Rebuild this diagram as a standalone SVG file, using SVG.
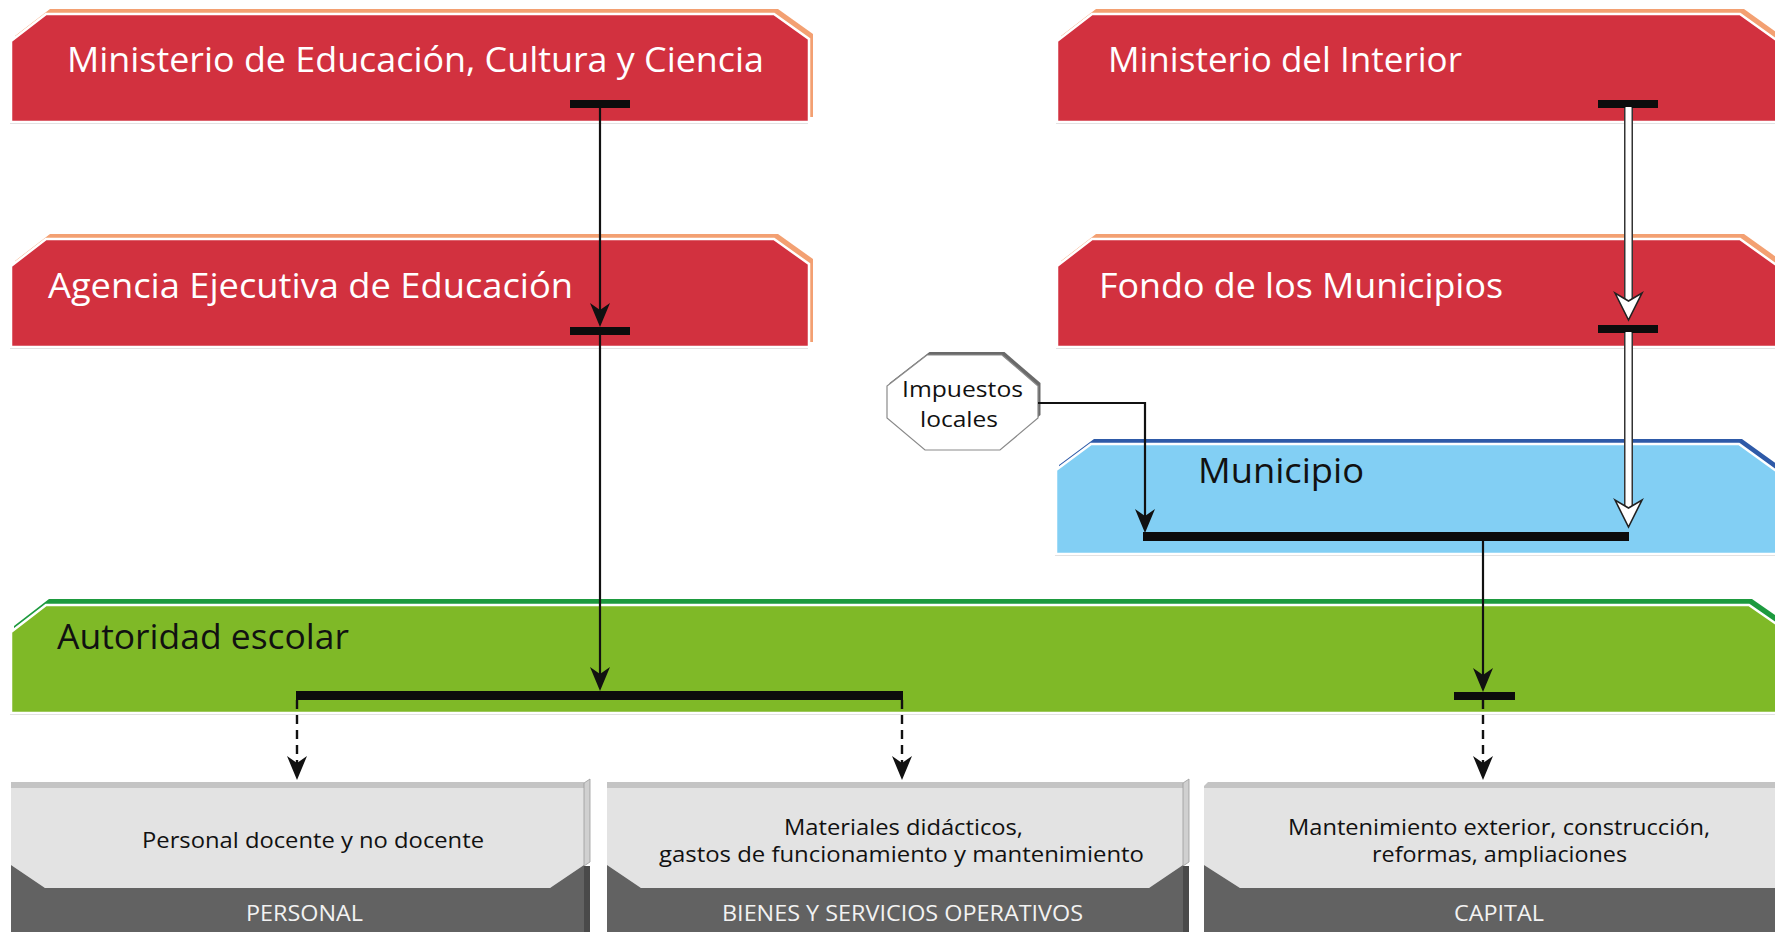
<svg xmlns="http://www.w3.org/2000/svg" xmlns:xlink="http://www.w3.org/1999/xlink" width="1775" height="932" viewBox="0 0 1775 932">
<defs>
<style>
.shadow{fill:#d9d9d9}
.orange{fill:#f3a072}
.red{fill:#d2313f;stroke:#fff;stroke-width:2.5}
.greenLine{fill:#1d9a3e}
.green{fill:#7fb927;stroke:#fff;stroke-width:2.5}
.blueLine{fill:#2e5aa8}
.blue{fill:#82cff4;stroke:#fff;stroke-width:2.5}
.lg{fill:#e3e3e3}
.dg{fill:#626262}
.topb{fill:#c4c4c4}
.sideU{fill:#d0d0d0;stroke:#9a9a9a;stroke-width:0.8}
.sideL{fill:#4a4a4a}
.bar{fill:#0c0c0c}
.ln{fill:none;stroke:#111;stroke-width:2.2}
.dash{fill:none;stroke:#111;stroke-width:2.4;stroke-dasharray:9 6}
.hollowOut{fill:none;stroke:#333;stroke-width:9}
.hollowIn{fill:none;stroke:#fff;stroke-width:6}
.ah{fill:#111}
.hh{fill:#fff;stroke:#222;stroke-width:1.6;stroke-linejoin:miter}
text{font-family:"Open Sans","Liberation Sans",sans-serif}
.tw{fill:#fff;font-size:34px}
.tb{fill:#111;font-size:34px}
.ts{fill:#111;font-size:22px}
.tc{fill:#f2f2f2;font-size:22px}
.oct{fill:#fff;stroke:#8a8a8a;stroke-width:1.2}
.octSh{fill:#6a6a6a}
</style>
<path id="ah" d="M-10,-24 L0,0 L10,-24 L0,-17 Z"/>
<path id="hh" d="M-13.5,-27 L0,0 L13.5,-27 L0,-19 Z"/>
<polygon id="boxL" points="11,41 46,14 774,14 809,39 809,122 11,122"/>
<polygon id="boxR" points="1057,41 1092,14 1740,14 1775,39 1800,57 1800,122 1057,122"/>
</defs>

<g id="mecyc">
<use href="#boxL" class="shadow" transform="translate(-1,2)"/>
<use href="#boxL" class="orange" transform="translate(4,-5)"/>
<use href="#boxL" class="red"/>
<text class="tw" x="67" y="72" textLength="697" lengthAdjust="spacingAndGlyphs">Ministerio de Educación, Cultura y Ciencia</text>
</g>

<g id="agencia">
<use href="#boxL" class="shadow" transform="translate(-1,227)"/>
<use href="#boxL" class="orange" transform="translate(4,220)"/>
<use href="#boxL" class="red" transform="translate(0,225)"/>
<text class="tw" x="48" y="298" textLength="525" lengthAdjust="spacingAndGlyphs">Agencia Ejecutiva de Educación</text>
</g>

<g id="interior">
<use href="#boxR" class="shadow" transform="translate(-1,2)"/>
<use href="#boxR" class="orange" transform="translate(4,-5)"/>
<use href="#boxR" class="red"/>
<text class="tw" x="1108" y="72" textLength="354" lengthAdjust="spacingAndGlyphs">Ministerio del Interior</text>
</g>

<g id="fondo">
<use href="#boxR" class="shadow" transform="translate(-1,227)"/>
<use href="#boxR" class="orange" transform="translate(4,220)"/>
<use href="#boxR" class="red" transform="translate(0,225)"/>
<text class="tw" x="1099" y="298" textLength="404" lengthAdjust="spacingAndGlyphs">Fondo de los Municipios</text>
</g>

<g id="impuestos">
<polygon class="octSh" points="927,355 1002,355 1038,386 1038,418 1000,450 925,450 887,418 887,386" transform="translate(2.5,-3)"/>
<polygon class="oct" points="927,355 1002,355 1038,386 1038,418 1000,450 925,450 887,418 887,386"/>
<text class="ts" x="902" y="397" textLength="121" lengthAdjust="spacingAndGlyphs">Impuestos</text>
<text class="ts" x="920" y="427" textLength="78" lengthAdjust="spacingAndGlyphs">locales</text>
</g>

<g id="municipio">
<polygon class="shadow" points="1056,470 1091,444 1739,444 1775,470 1800,488 1800,554 1056,554" transform="translate(-1,2)"/>
<polygon class="blueLine" points="1056,470 1091,444 1739,444 1775,470 1800,488 1800,554 1056,554" transform="translate(3,-5)"/>
<polygon class="blue" points="1056,470 1091,444 1739,444 1775,470 1800,488 1800,554 1056,554"/>
<text class="tb" x="1198" y="483" textLength="166" lengthAdjust="spacingAndGlyphs">Municipio</text>
</g>

<g id="autoridad">
<polygon class="shadow" points="11,632 46,605 1749,605 1775,623 1800,640 1800,713 11,713" transform="translate(-1,2)"/>
<polygon class="greenLine" points="11,632 46,605 1749,605 1775,623 1800,640 1800,713 11,713" transform="translate(3,-6)"/>
<polygon class="green" points="11,632 46,605 1749,605 1775,623 1800,640 1800,713 11,713"/>
<text class="tb" x="57" y="649" textLength="292" lengthAdjust="spacingAndGlyphs">Autoridad escolar</text>
</g>

<g id="personal">
<rect class="topb" x="11" y="782" width="573" height="6"/>
<polygon class="lg" points="11,788 584,788 584,865 550,888 45,888 11,865"/>
<polygon class="dg" points="11,865 45,888 550,888 584,865 584,932 11,932"/>
<polygon class="sideU" points="584,783 590,779 590,862 584,866"/>
<rect class="sideL" x="584" y="866" width="6" height="66"/>
<text class="ts" x="142" y="848" textLength="342" lengthAdjust="spacingAndGlyphs">Personal docente y no docente</text>
<text class="tc" x="246" y="921" textLength="117" lengthAdjust="spacingAndGlyphs">PERSONAL</text>
</g>

<g id="bienes">
<rect class="topb" x="607" y="782" width="576" height="6"/>
<polygon class="lg" points="607,788 1183,788 1183,865 1149,888 641,888 607,865"/>
<polygon class="dg" points="607,865 641,888 1149,888 1183,865 1183,932 607,932"/>
<polygon class="sideU" points="1183,783 1189,779 1189,862 1183,866"/>
<rect class="sideL" x="1183" y="866" width="6" height="66"/>
<text class="ts" x="784" y="835" textLength="239" lengthAdjust="spacingAndGlyphs">Materiales didácticos,</text>
<text class="ts" x="659" y="862" textLength="485" lengthAdjust="spacingAndGlyphs">gastos de funcionamiento y mantenimiento</text>
<text class="tc" x="722" y="921" textLength="361" lengthAdjust="spacingAndGlyphs">BIENES Y SERVICIOS OPERATIVOS</text>
</g>

<g id="capital">
<polygon class="topb" points="1204,786 1208,782 1800,782 1800,788 1204,788"/>
<polygon class="lg" points="1204,788 1800,788 1800,888 1240,888 1204,865"/>
<polygon class="dg" points="1204,865 1240,888 1800,888 1800,932 1204,932"/>
<text class="ts" x="1288" y="835" textLength="422" lengthAdjust="spacingAndGlyphs">Mantenimiento exterior, construcción,</text>
<text class="ts" x="1372" y="862" textLength="255" lengthAdjust="spacingAndGlyphs">reformas, ampliaciones</text>
<text class="tc" x="1454" y="921" textLength="90" lengthAdjust="spacingAndGlyphs">CAPITAL</text>
</g>

<g id="connectors">
<!-- left chain -->
<rect class="bar" x="570" y="100" width="60" height="8"/>
<path class="ln" d="M600,108 V318"/>
<use href="#ah" class="ah" x="600" y="327"/>
<rect class="bar" x="570" y="327" width="60" height="8"/>
<path class="ln" d="M600,335 V682"/>
<use href="#ah" class="ah" x="600" y="691"/>
<rect class="bar" x="296" y="691" width="607" height="9"/>
<path class="dash" d="M297,700 V770"/>
<use href="#ah" class="ah" x="297" y="780"/>
<path class="dash" d="M902,700 V770"/>
<use href="#ah" class="ah" x="902" y="780"/>
<!-- right hollow chain -->
<rect class="bar" x="1598" y="100" width="60" height="8"/>
<path class="hollowOut" d="M1628.5,108 V303"/>
<path class="hollowIn" d="M1628.5,107 V304"/>
<use href="#hh" class="hh" x="1628.5" y="320"/>
<rect class="bar" x="1598" y="325" width="60" height="8"/>
<path class="hollowOut" d="M1628.5,333 V510"/>
<path class="hollowIn" d="M1628.5,332 V511"/>
<use href="#hh" class="hh" x="1628.5" y="527"/>
<!-- impuestos -->
<path class="ln" d="M1038,403 H1145 V524"/>
<use href="#ah" class="ah" x="1145" y="533"/>
<rect class="bar" x="1143" y="532" width="486" height="9"/>
<path class="ln" d="M1483,541 V683"/>
<use href="#ah" class="ah" x="1483" y="692"/>
<rect class="bar" x="1454" y="692" width="61" height="8"/>
<path class="dash" d="M1483,700 V770"/>
<use href="#ah" class="ah" x="1483" y="780"/>
</g>
</svg>
